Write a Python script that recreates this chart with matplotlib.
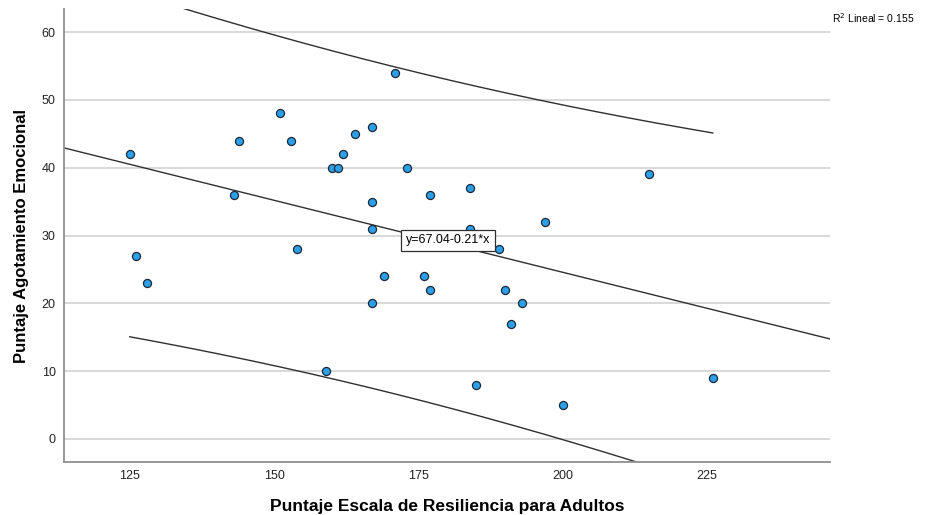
import numpy as np
import matplotlib
matplotlib.use("Agg")
from matplotlib import pyplot as plt

# datos
resiliencia = [125, 126, 128, 143, 144, 151, 153, 154, 159, 160, 161, 162,
               164, 167, 167, 167, 167, 169, 171, 173, 176, 177, 177, 184,
               184, 185, 189, 190, 191, 193, 197, 200, 215, 226]
agotamiento = [42, 27, 23, 36, 44, 48, 44, 28, 10, 40, 40, 42,
               45, 46, 35, 31, 20, 24, 54, 40, 24, 36, 22, 37,
               31, 8, 28, 22, 17, 20, 32, 5, 39, 9]
x_ticks = [125, 150, 175, 200, 225]
y_ticks = [0, 10, 20, 30, 40, 50, 60]

x = np.array(resiliencia, dtype=float)
y = np.array(agotamiento, dtype=float)
n = len(x)

# ajuste lineal e intervalo de prediccion 95%
b, a = np.polyfit(x, y, 1)
res = y - (a + b * x)
s = np.sqrt(np.sum(res ** 2) / (n - 2))
t = 2.037
sxx = np.sum((x - x.mean()) ** 2)

fig = plt.figure(figsize=(9.26, 5.15), dpi=100)
ax = fig.add_axes([0.0691, 0.1029, 0.8272, 0.8796])

xmin, xmax = 113.6, 246.3
ax.set_xlim(xmin, xmax)
ax.set_ylim(-3.4, 63.4)

for v in y_ticks:
    ax.axhline(v, color="#d2d2d2", lw=1.2, zorder=0)

xl = np.linspace(xmin, xmax, 200)
ax.plot(xl, a + b * xl, color="#303030", lw=1.0, zorder=2)

xc = np.linspace(x.min(), x.max(), 200)
half = t * s * np.sqrt(1 + 1 / n + (xc - x.mean()) ** 2 / sxx)
ax.plot(xc, a + b * xc + half, color="#303030", lw=1.0, zorder=2)
ax.plot(xc, a + b * xc - half, color="#303030", lw=1.0, zorder=2)

ax.scatter(x, y, s=34, color="#2c9fe8", edgecolor="#1e2a38", linewidth=0.9, zorder=3)

ax.text(172.8, 29.3, "y=67.04-0.21*x", fontsize=9, family="Liberation Sans",
        ha="left", va="center", zorder=4,
        bbox=dict(boxstyle="square,pad=0.36", fc="white", ec="#303030", lw=0.9))

for side in ["top", "right"]:
    ax.spines[side].set_visible(False)
for side in ["left", "bottom"]:
    ax.spines[side].set_color("#909090")
    ax.spines[side].set_linewidth(1.3)

ax.set_xticks(x_ticks)
ax.set_yticks(y_ticks)
ax.tick_params(length=0, labelsize=9, colors="#222222")
ax.tick_params(axis="x", pad=6)
ax.tick_params(axis="y", pad=6)
for lab in ax.get_xticklabels() + ax.get_yticklabels():
    lab.set_family("Liberation Sans")

ax.set_xlabel("Puntaje Escala de Resiliencia para Adultos", fontsize=12.5,
              fontweight="bold", family="Liberation Sans", labelpad=12)
ax.set_ylabel("Puntaje Agotamiento Emocional", fontsize=12,
              fontweight="bold", family="Liberation Sans", labelpad=9)

fig.text(0.898, 0.965, "R$^2$ Lineal = 0.155", fontsize=7.5,
         family="Liberation Sans", ha="left", va="center")

fig.savefig("out.png", dpi=100)
